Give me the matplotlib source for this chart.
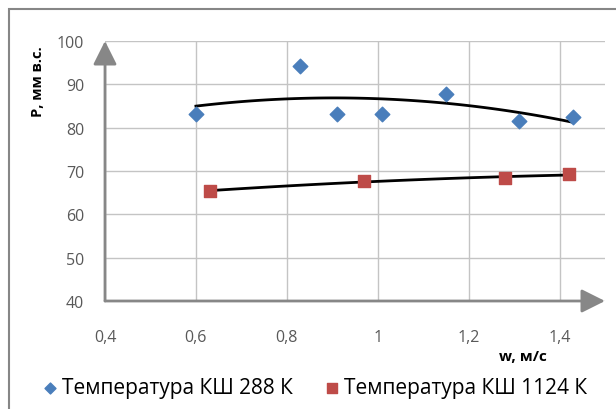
import numpy as np
import matplotlib
matplotlib.use('Agg')
import matplotlib.pyplot as plt
from matplotlib.patches import Rectangle

plt.rcParams['font.family'] = ['Open Sans', 'DejaVu Sans']

# series
w_288 = [0.60, 0.83, 0.91, 1.01, 1.15, 1.31, 1.43]
p_288 = [83.2, 94.2, 83.2, 83.2, 87.7, 81.6, 82.5]
w_1124 = [0.63, 0.97, 1.28, 1.42]
p_1124 = [65.4, 67.7, 68.3, 69.3]

x_ticks = [0.4, 0.6, 0.8, 1.0, 1.2, 1.4]
x_labels = ['0,4', '0,6', '0,8', '1', '1,2', '1,4']
y_ticks = [40, 50, 60, 70, 80, 90, 100]

label_288 = 'Температура КШ 288 К'
label_1124 = 'Температура КШ 1124 К'

W, H = 616, 410
fig = plt.figure(figsize=(W / 100, H / 100), dpi=100)
ax = fig.add_axes([105 / W, 1 - 302 / H, 500 / W, 260 / H])
ax.set_xlim(0.4, 1.5)
ax.set_ylim(40, 100)

for s in ax.spines.values():
    s.set_visible(False)

ax.set_xticks(x_ticks)
ax.set_xticklabels(x_labels)
ax.set_yticks(y_ticks)
ax.tick_params(length=0, labelsize=11.5, colors='#595959')
ax.tick_params(axis='x', pad=20)
ax.tick_params(axis='y', pad=15)
ax.grid(True, color='#c4c4c4', lw=1)
ax.set_axisbelow(True)

# axes drawn as arrows
arrow = dict(arrowstyle='-|>,head_length=0.8,head_width=0.4', color='#878787',
             lw=2, shrinkA=0, shrinkB=0, mutation_scale=18)
ax.annotate('', xy=(1.5, 40), xytext=(0.4, 40), arrowprops=arrow, annotation_clip=False)
ax.annotate('', xy=(0.4, 100), xytext=(0.4, 40), arrowprops=arrow, annotation_clip=False)

# polynomial trend lines
for xs, ys in ((w_288, p_288), (w_1124, p_1124)):
    c = np.polyfit(xs, ys, 2)
    xx = np.linspace(min(xs), max(xs), 100)
    ax.plot(xx, np.polyval(c, xx), color='black', lw=2, zorder=3)

ax.scatter(w_288, p_288, marker='D', s=55, color='#4a7ebb', zorder=4, label=label_288)
ax.scatter(w_1124, p_1124, marker='s', s=85, color='#be4b48', zorder=4, label=label_1124)

fig.text(38 / W, 1 - 82 / H, 'Р, мм в.с.', rotation=90, ha='center', va='center',
         fontsize=10.5, fontweight='bold')
fig.text(547 / W, 1 - 357 / H, 'w, м/с', ha='right', va='center',
         fontsize=11, fontweight='bold')

fig.legend(loc='center', bbox_to_anchor=(314 / W, 1 - 389 / H), ncol=2, frameon=False,
           fontsize=15, handletextpad=0.15, columnspacing=1.4, handlelength=0.9,
           scatterpoints=1, markerscale=0.75)

fig.add_artist(Rectangle((9 / W, -0.1), 1.2, 1 - 10 / H + 0.1, transform=fig.transFigure,
                         fill=False, ec='#868686', lw=1.5))

fig.savefig('out.png', dpi=100)
